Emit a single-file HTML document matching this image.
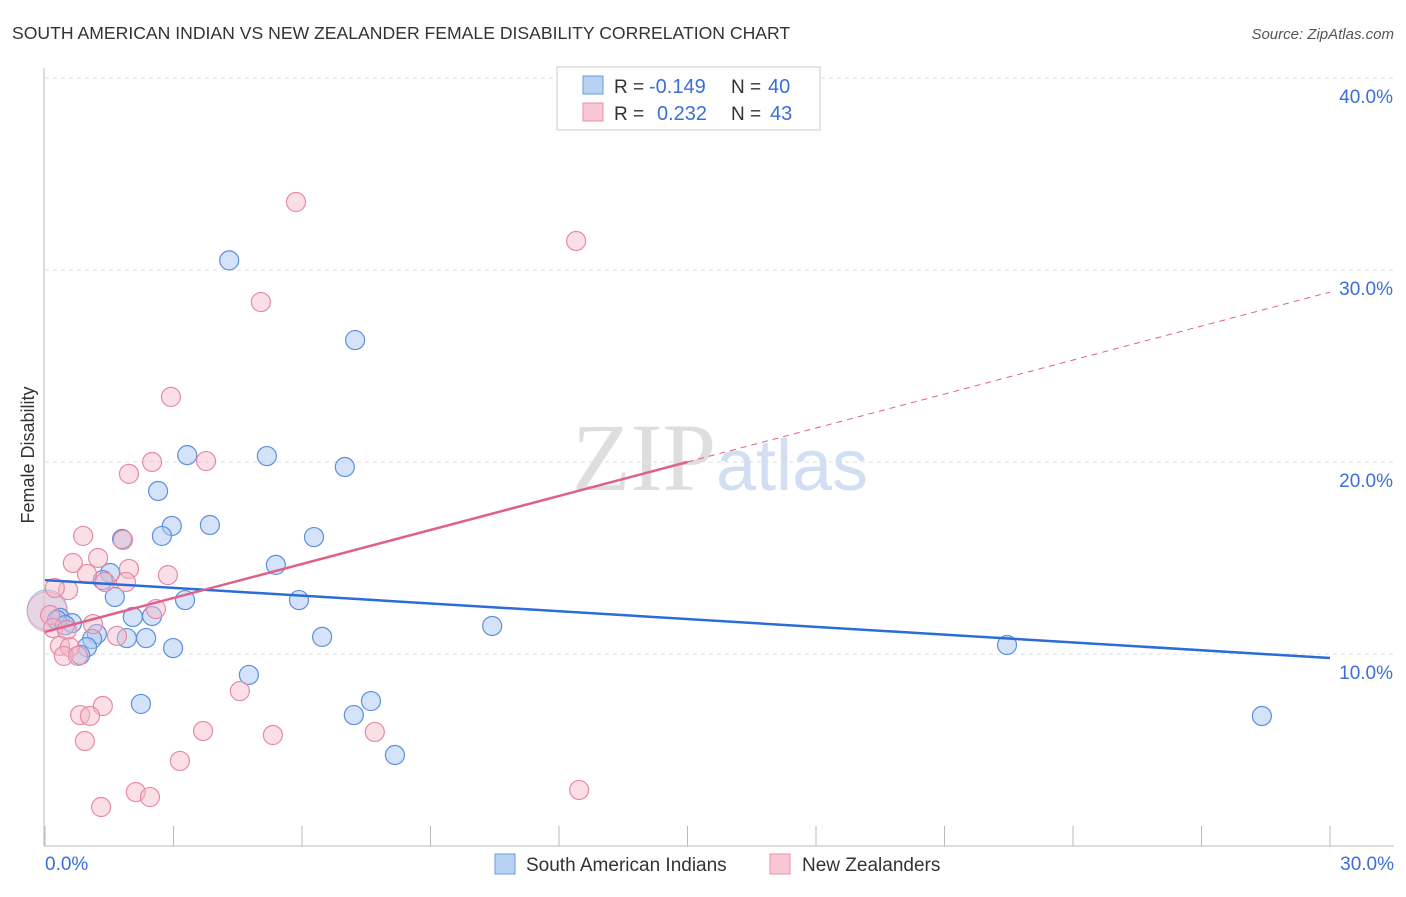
<!DOCTYPE html>
<html><head><meta charset="utf-8"><style>
body{margin:0;background:#fff;font-family:"Liberation Sans",sans-serif}
svg text{font-family:"Liberation Sans",sans-serif}
</style></head><body>
<svg id="chart" width="1406" height="892" viewBox="0 0 1406 892" xmlns="http://www.w3.org/2000/svg">
<text x="12" y="39" font-size="17.6" fill="#333">SOUTH AMERICAN INDIAN VS NEW ZEALANDER FEMALE DISABILITY CORRELATION CHART</text>
<text x="1394" y="39" font-size="15" fill="#555" text-anchor="end" font-style="italic">Source: ZipAtlas.com</text>
<text x="720" y="490" font-size="96" text-anchor="middle" fill="#ddd" opacity="0.8"><tspan font-family="Liberation Serif" fill="#d6d6d6">ZIP</tspan><tspan fill="#c8d8f0" font-size="72">atlas</tspan></text>
<g id="grid"></g><g id="axes"></g><g id="marks"></g>
<text transform="translate(34,455) rotate(-90)" font-size="18" fill="#333" text-anchor="middle">Female Disability</text>
<g>
<rect x="557" y="67" width="263" height="63" fill="#fff" stroke="#ccc"/>
<rect x="583" y="76" width="20" height="18" fill="#b8d2f4" stroke="#6a9ae0"/>
<rect x="583" y="103" width="20" height="18" fill="#f9c6d4" stroke="#e890aa"/>
<text x="614" y="93" font-size="19" fill="#333">R =</text>
<text x="649" y="93" font-size="20" fill="#3a6fd8">-0.149</text>
<text x="731" y="93" font-size="19" fill="#333">N =</text>
<text x="768" y="93" font-size="20" fill="#3a6fd8">40</text>
<text x="614" y="120" font-size="19" fill="#333">R =</text>
<text x="657" y="120" font-size="20" fill="#3a6fd8">0.232</text>
<text x="731" y="120" font-size="19" fill="#333">N =</text>
<text x="770" y="120" font-size="20" fill="#3a6fd8">43</text>
</g>
<g>
<rect x="495" y="854" width="20" height="20" fill="#b8d2f4" stroke="#6a9ae0"/>
<text x="526" y="871" font-size="19" fill="#333">South American Indians</text>
<rect x="770" y="854" width="20" height="20" fill="#f9c6d4" stroke="#e890aa"/>
<text x="802" y="871" font-size="19" fill="#333">New Zealanders</text>
</g>
</svg>
<script>
const blueX=[4.30,7.24,3.32,5.18,7.00,2.64,2.96,3.85,2.73,1.80,6.28,5.39,1.52,1.35,1.63,3.27,5.93,2.05,2.50,0.35,0.63,1.21,1.10,1.91,2.36,6.47,0.98,0.82,2.99,10.44,22.46,4.76,7.61,7.21,2.24,8.17,28.41,0.28,0.47];
const blueY=[30.5,26.35,20.36,20.31,19.74,18.49,16.67,16.72,16.15,15.99,16.09,14.64,14.22,13.85,12.97,12.81,12.81,11.93,11.98,11.88,11.61,11.04,10.78,10.83,10.83,10.89,10.36,9.95,10.31,11.46,10.47,8.91,7.55,6.82,7.40,4.74,6.77,11.77,11.5];
const pinkX=[5.86,12.40,5.04,2.94,2.50,3.76,1.96,0.89,1.82,1.24,0.65,1.96,0.98,2.87,1.40,1.89,0.54,0.23,2.59,1.12,0.12,0.19,0.51,1.68,0.35,0.58,0.44,0.77,4.55,1.35,0.82,1.05,3.69,5.32,7.70,0.93,3.15,2.12,2.45,1.31,12.47];
const pinkY=[33.54,31.51,28.33,23.39,20.0,20.05,19.38,16.15,15.94,15.0,14.74,14.43,14.17,14.11,13.75,13.75,13.33,13.44,12.34,11.56,12.03,11.35,11.25,10.94,10.42,10.36,9.9,9.9,8.07,7.29,6.82,6.77,5.99,5.78,5.94,5.47,4.43,2.81,2.55,2.03,2.92];
const bigX=[0.05,0.05], bigY=[12.3,12.2];
const blueTrend=[13.85,9.79]; // y at x=0 and x=30
const pinkTrend=[11.15,28.85]; const pinkSolidEnd=15;
const yTicks=[10,20,30,40], yTickLabels=["10.0%","20.0%","30.0%","40.0%"];
const xTicks=[0,3,6,9,12,15,18,21,24,27,30];
const NS="http://www.w3.org/2000/svg";
const sx=v=>45+v/30*1285, sy=v=>846-v/40*768;
function mk(p,t,a){const e=document.createElementNS(NS,t);for(const k in a)e.setAttribute(k,a[k]);document.getElementById(p).appendChild(e);return e;}
yTicks.forEach((t,i)=>{
 const l=mk('grid','line',{x1:45,x2:1394,y1:sy(t),y2:sy(t),stroke:'#ddd','stroke-dasharray':'4,4'});
 
 
 const tx=mk('axes','text',{x:1393,y:sy(t)+25,'font-size':19,fill:'#3a6fd8','text-anchor':'end'});
 tx.textContent=yTickLabels[i];
 
 
});
let ax=mk('axes','line',{x1:44,x2:44,y1:68,y2:846,stroke:'#bbb'});


ax=mk('axes','line',{x1:44,x2:1394,y1:846,y2:846,stroke:'#bbb'});


xTicks.forEach(t=>{const l=mk('axes','line',{x1:sx(t),x2:sx(t),y1:826,y2:846,stroke:'#bbb'});
 
 });
let xl=mk('axes','text',{x:45,y:870,'font-size':19,fill:'#3a6fd8'});xl.textContent='0.0%';


xl=mk('axes','text',{x:1394,y:870,'font-size':19,fill:'#3a6fd8','text-anchor':'end'});xl.textContent='30.0%';


bigX.forEach((x,i)=>{const c=mk('marks','circle',{cx:sx(x),cy:sy(bigY[i]),r:20,fill:i?'#f5b8c8':'#a9c8f0','fill-opacity':0.4,stroke:i?'#e88aa5':'#5b8fe0','stroke-opacity':0.6});
 
 });
blueX.forEach((x,i)=>{const c=mk('marks','circle',{cx:sx(x),cy:sy(blueY[i]),r:9.5,fill:'#a9c8f0','fill-opacity':0.5,stroke:'#5b8fe0','stroke-width':1.2});
 
 });
pinkX.forEach((x,i)=>{const c=mk('marks','circle',{cx:sx(x),cy:sy(pinkY[i]),r:9.5,fill:'#f5b8c8','fill-opacity':0.45,stroke:'#e88aa5','stroke-width':1.2});
 
 });
const pAt=x=>pinkTrend[0]+(pinkTrend[1]-pinkTrend[0])*x/30;
let tl=mk('marks','line',{x1:sx(0),y1:sy(blueTrend[0]),x2:sx(30),y2:sy(blueTrend[1]),stroke:'#2a6dd6','stroke-width':2.5});


tl=mk('marks','line',{x1:sx(0),y1:sy(pAt(0)),x2:sx(pinkSolidEnd),y2:sy(pAt(pinkSolidEnd)),stroke:'#e0608a','stroke-width':2.5});


tl=mk('marks','line',{x1:sx(pinkSolidEnd),y1:sy(pAt(pinkSolidEnd)),x2:sx(30),y2:sy(pAt(30)),stroke:'#e0608a','stroke-width':1,'stroke-dasharray':'6,5'});


</script>
</body></html>
